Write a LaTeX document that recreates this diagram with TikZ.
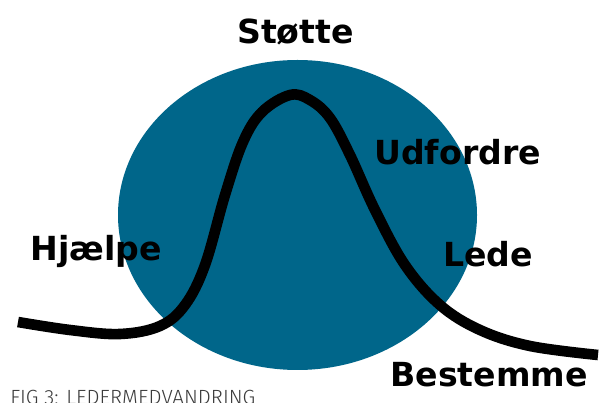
\documentclass[tikz,border=0pt]{standalone}
\usepackage{fontspec}
\setmainfont{DejaVu Sans}
\newfontfamily\capfont{Fira Sans Light}
\usepackage{xcolor}
\usetikzlibrary{positioning}
\definecolor{ledBlue}{HTML}{00668A}
\definecolor{ledGray}{HTML}{3A3A3A}
\tikzset{
  stage/.style={anchor=base west, inner sep=0pt, font=\bfseries\fontsize{25}{25}\selectfont, text=black},
  caption/.style={anchor=base west, inner sep=0pt, font=\capfont\fontsize{15.5}{15.5}\selectfont, text=ledGray},
  curve/.style={line width=8pt, black, line cap=butt}
}

\begin{document}
\begin{tikzpicture}[x=0.0265cm, y=-0.0265cm]
  \useasboundingbox (0,0) rectangle (600,403);
  % circle behind the curve
  \fill[ledBlue] (297.5,215) ellipse [x radius=179.5, y radius=155];
  % the curve
  \draw[curve] plot[smooth, tension=0.6] coordinates {
    (18,322) (70,330) (120,334) (160,326) (185,305) (205,265) (225,195)
    (243,142) (262,112) (290,95) (310,100) (330,118) (350,155) (375,210)
    (405,265) (440,305) (480,330) (530,346) (598,355)};
  % labels
  \node[stage] (stotte) at (237,44) {Støtte};
  \node[stage] (udfordre) at (374,165) {Udfordre};
  \node[stage] (hjaelpe) at (30,261) {Hjælpe};
  \node[stage] (lede) at (443,267) {Lede};
  \node[stage] (bestemme) at (390,387) {Bestemme};
  \node[caption] (fig) at (10,405) {FIG 3: LEDERMEDVANDRING};
\end{tikzpicture}
\end{document}
